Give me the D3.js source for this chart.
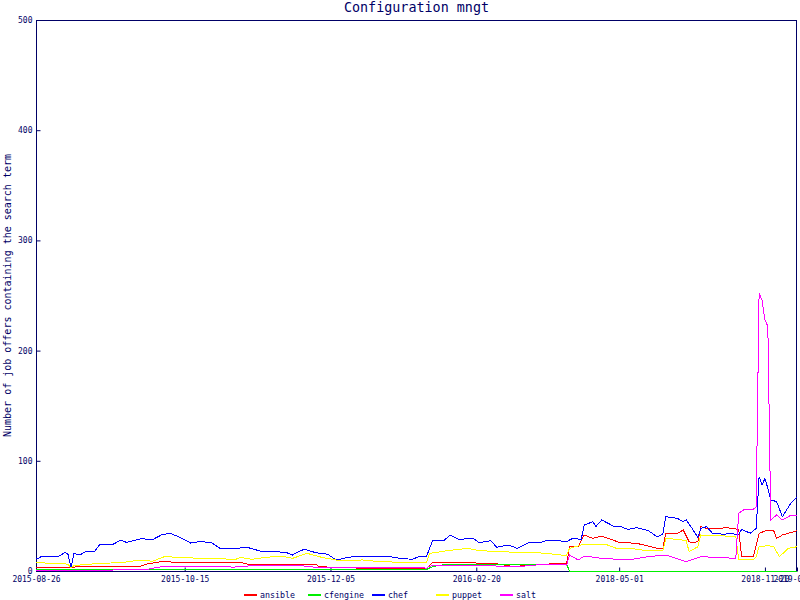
<!DOCTYPE html>
<html>
<head>
<meta charset="utf-8">
<script src="https://cdn.jsdelivr.net/npm/d3@7"></script>
<style>
  body { margin: 0; background: #fff; }
  text { font-family: "DejaVu Sans Mono", monospace; fill: #000066; }
</style>
</head>
<body>
<div id="chart"></div>
<script>
// samples are indexed 0..261, x axis shows a date every ~50 samples
const tickIdx = [0, 51, 101, 151, 200, 250, 261]
const tickLabels = ["2015-08-26", "2015-10-15", "2015-12-05", "2016-02-20", "2018-05-01", "2018-11-20", "2019-01-10"]
const yTicks = [0, 100, 200, 300, 400, 500]

const names = ["ansible", "cfengine", "chef", "puppet", "salt"]
const colors = ["#ff0000", "#00ee00", "#0000ff", "#ffff00", "#ff00ff"]

// [sample, offers]
const ansible = [[0,3.3],[12,3.3],[15,4],[24,4.5],[36,4.5],[38,6.3],[43,8.5],[49,7.9],[56,7.9],[66,7.4],[70,7.9],[74,5.4],[79,6.3],[91,6.3],[96,6.3],[97,3.9],[103,3.3],[110,2.7],[134,2.7],[136,7.5],[150,7.5],[152,7],[157,7],[164,3.9],[166,4.5],[170,5.4],[180,7],[182,7],[183,22],[186,22],[188,32.7],[191,29.6],[194,31.6],[198,28],[200,26],[204,25.4],[207,24.5],[213,20.6],[215,20.6],[216,34.2],[220,34],[222,37.2],[224,26.6],[225,25.4],[227,26.6],[228,40.2],[230,38.7],[234,38.7],[237,39.3],[241,37.8],[242,13],[246,13],[248,34.2],[251,37.2],[253,36.6],[254,29.6],[256,32.7],[260,35.7],[261,36.6]]
const cfengine = [[0,1.5],[22,1.5],[24,1],[91,1],[100,1.5],[134,1.5],[136,4],[141,6.3],[175,6.3],[182,6],[183,0],[261,0]]
const chef = [[0,11],[1,11.5],[2,13.5],[8,13.6],[10,17],[11,15],[12,3],[13,16],[15,14.5],[17,17.5],[20,17.5],[22,24.5],[26,23.6],[29,28],[31,26],[36,29.3],[40,28.5],[43,32.7],[46,34.2],[49,31],[53,25.4],[56,26.6],[60,26],[63,20.7],[68,20],[72,21.8],[77,18],[81,18],[86,16.6],[88,14.5],[90,17.5],[92,19.7],[96,16.6],[100,15.2],[103,10],[107,12.4],[111,13.6],[120,13.6],[125,11.5],[129,10.6],[132,13.6],[134,13.6],[136,27.5],[140,27.8],[142,32.7],[145,28.7],[150,29.6],[152,25.7],[156,27.5],[158,21.5],[162,23.6],[165,20.6],[169,25.7],[173,25.7],[175,27.5],[179,27.5],[182,26.6],[184,29.6],[187,28.7],[188,41.7],[191,44.7],[192,40.2],[194,46.3],[198,40.8],[200,40.8],[203,37.8],[206,39.3],[210,36.6],[213,31.1],[215,33.4],[216,49.3],[220,47.8],[222,44.7],[223,46.5],[225,38.7],[227,30.6],[228,38.7],[230,40.2],[232,34.2],[236,33.3],[238,34.2],[241,32.7],[242,37.8],[245,34.2],[247,38.7],[248,85.6],[249,78],[250,84],[251,75],[252,64.4],[254,63],[256,49.3],[259,62],[261,67.4]]
const puppet = [[0,7.5],[1,7.5],[10,6.5],[11,6],[12,2.5],[13,5],[15,5.4],[22,7],[29,7.5],[36,10],[40,8.8],[44,13],[49,12.4],[56,11.5],[63,11.5],[68,10],[70,12.4],[74,10.6],[79,12.4],[84,13.6],[88,11.5],[93,16],[98,12.4],[104,9.4],[112,10],[118,8.5],[125,7.9],[134,7.9],[135,16],[141,18.4],[148,20.6],[152,18.4],[158,17.8],[164,17],[170,17],[175,16],[180,14.5],[182,14.5],[183,20.6],[187,23.6],[191,24.2],[196,23.6],[199,20.6],[204,20.6],[208,19],[213,18.4],[215,18.4],[216,29.6],[220,28.7],[223,27.5],[224,17.5],[227,22],[228,32.7],[230,32.2],[234,32.2],[237,31.6],[240,31.6],[241,10],[246,10],[247,13],[248,22],[251,23],[253,22],[255,13],[258,20.6],[261,22]]
const salt = [[0,0.3],[26,0.5],[27,1.5],[38,1.5],[43,3.9],[56,3.9],[68,3.6],[74,4.8],[91,4.8],[95,3.6],[134,2.7],[135,4.5],[152,5.4],[164,3.6],[175,6.3],[182,5.4],[183,14.5],[186,10],[188,13.6],[194,11.5],[203,10],[210,13],[216,14.5],[223,8.5],[228,13],[240,11.5],[241,52.3],[243,56],[246,56],[247,58],[248,252],[249,246],[250,228],[251,222],[252,46.3],[254,50.8],[256,46.3],[259,50.8],[261,50.8]]

const series = [ansible, cfengine, chef, puppet, salt]

const width = 800
const height = 600
const margin = { top: 20, right: 3, bottom: 29, left: 36 }
const navy = "#000066"

const svg = d3.select("#chart").append("svg").attr("width", width).attr("height", height)

const x = d3.scaleLinear()
            .domain([0, 261])
            .range([margin.left, width - margin.right])

const y = d3.scaleLinear()
            .domain([0, 500])
            .range([height - margin.bottom, margin.top])

// frame
svg.append("rect")
   .attr("x", margin.left + 0.5)
   .attr("y", margin.top + 0.5)
   .attr("width", width - margin.right - margin.left - 1)
   .attr("height", height - margin.bottom - margin.top)
   .attr("fill", "none")
   .attr("stroke", navy)

const gx = svg.append("g")
              .attr("transform", `translate(0, ${height - margin.bottom + 0.5})`)
              .call(d3.axisBottom(x)
                      .tickValues(tickIdx)
                      .tickFormat((d, i) => tickLabels[i])
                      .tickSizeInner(-4)
                      .tickSizeOuter(0)
                      .tickPadding(5))
gx.select(".domain").remove()

const gy = svg.append("g")
              .attr("transform", `translate(${margin.left + 0.5}, 0)`)
              .call(d3.axisLeft(y)
                      .tickValues(yTicks)
                      .tickSizeInner(-4)
                      .tickSizeOuter(0)
                      .tickPadding(4))
gy.select(".domain").remove()

svg.selectAll(".tick line").attr("stroke", navy)
svg.selectAll(".tick text")
   .style("font-family", "DejaVu Sans Mono")
   .style("font-size", "8px")
   .attr("fill", navy)

const line = d3.line()
               .x(d => x(d[0]))
               .y(d => y(d[1]))

svg.selectAll("path.series")
   .data(series)
   .enter()
   .append("path")
   .attr("class", "series")
   .attr("d", line)
   .attr("fill", "none")
   .attr("stroke", (d, i) => colors[i])
   .attr("stroke-width", 1)
   .attr("shape-rendering", "crispEdges")

svg.append("text")
   .text("Configuration mngt")
   .attr("x", (margin.left + width - margin.right) / 2)
   .attr("y", 8)
   .attr("text-anchor", "middle")
   .attr("dominant-baseline", "middle")
   .style("font-size", "13.4px")

svg.append("text")
   .text("Number of job offers containing the search term")
   .attr("transform", `translate(8, ${(margin.top + height - margin.bottom) / 2}) rotate(-90)`)
   .attr("text-anchor", "middle")
   .attr("dominant-baseline", "middle")
   .style("font-size", "10px")

// legend
const legend = svg.selectAll("g.legend")
                  .data(names)
                  .enter()
                  .append("g")
                  .attr("class", "legend")
                  .attr("transform", (d, i) => `translate(${244 + i * 64}, 595)`)

legend.append("line")
      .attr("x1", 0)
      .attr("x2", 13)
      .attr("stroke", (d, i) => colors[i])
      .attr("stroke-width", 2)

legend.append("text")
      .text(d => d)
      .attr("x", 16)
      .attr("dominant-baseline", "middle")
      .style("font-size", "8.3px")
</script>
</body>
</html>
